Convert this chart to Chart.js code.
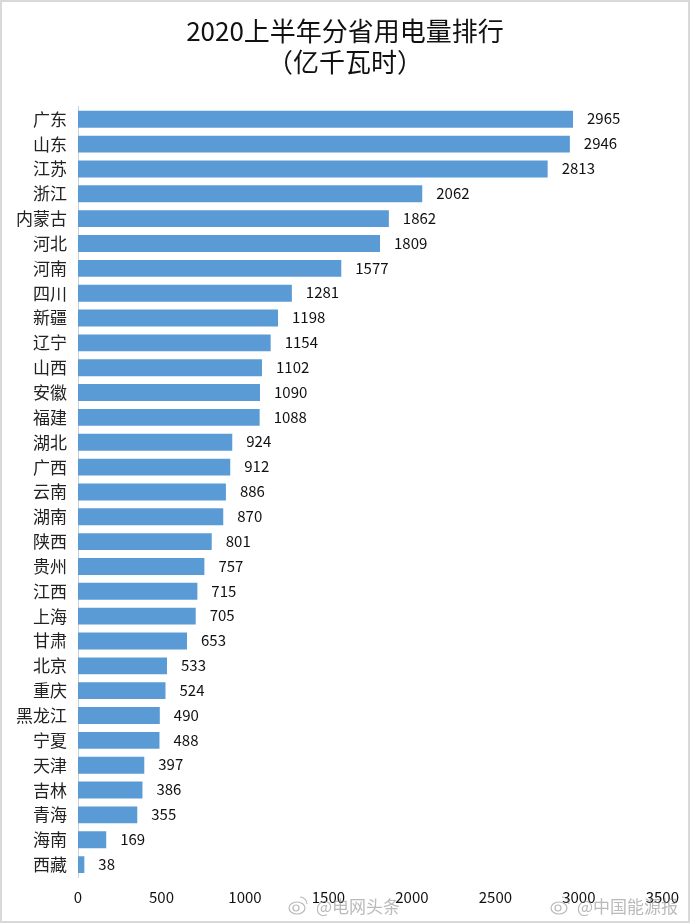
<!DOCTYPE html>
<html>
<head>
<meta charset="utf-8">
<script src="https://cdn.jsdelivr.net/npm/chart.js@4/dist/chart.umd.min.js"></script>
<style>
html, body { margin: 0; padding: 0; background: #fff; }
#wrap { position: relative; width: 690px; height: 923px; box-sizing: border-box; }
canvas { position: absolute; left: 0; top: 0; }
</style>
</head>
<body>
<div id="wrap"><canvas id="myChart" width="690" height="923"></canvas></div>
<script>
const provinces = ['广东','山东','江苏','浙江','内蒙古','河北','河南','四川','新疆','辽宁','山西','安徽','福建','湖北','广西','云南','湖南','陕西','贵州','江西','上海','甘肃','北京','重庆','黑龙江','宁夏','天津','吉林','青海','海南','西藏'];
const usage = [2965,2946,2813,2062,1862,1809,1577,1281,1198,1154,1102,1090,1088,924,912,886,870,801,757,715,705,653,533,524,490,488,397,386,355,169,38];
const xTicks = [0,500,1000,1500,2000,2500,3000,3500];
const titleLines = ['2020上半年分省用电量排行','（亿千瓦时）'];
const watermarks = ['@电网头条','@中国能源报'];

const fontFam = '"Noto Sans CJK SC", sans-serif';

// weibo style mark in front of the watermark text
function drawMark(c, x, y) {
    c.beginPath();
    c.ellipse(x, y + 1, 8, 6, 0, 0, Math.PI * 2);
    c.stroke();
    c.beginPath();
    c.arc(x - 1, y + 1, 3, 0, Math.PI * 2);
    c.stroke();
    c.beginPath();
    c.arc(x + 3, y - 3, 7, -Math.PI / 2, 0);
    c.stroke();
}

// value labels next to the bars, plus frame and watermark
const extras = {
    id: 'extras',
    afterDatasetsDraw(chart) {
        const c = chart.ctx;
        const meta = chart.getDatasetMeta(0);
        c.save();
        c.fillStyle = '#111';
        c.font = '15px ' + fontFam;
        c.textAlign = 'left';
        c.textBaseline = 'middle';
        meta.data.forEach((bar, i) => {
            c.fillText(usage[i], bar.x + 14, bar.y - 0.5);
        });
        c.restore();
    },
    afterDraw(chart) {
        const c = chart.ctx;
        c.save();
        c.strokeStyle = '#d9d9d9';
        c.lineWidth = 2;
        c.strokeRect(1, 1, 688, 921);
        c.fillStyle = 'rgba(130,130,130,0.55)';
        c.strokeStyle = 'rgba(130,130,130,0.55)';
        c.lineWidth = 1.2;
        c.font = '17px "Noto Sans CJK SC"';
        c.textBaseline = 'middle';
        c.fillText(watermarks[0], 316, 907);
        c.fillText(watermarks[1], 577, 907);
        drawMark(c, 297, 907);
        drawMark(c, 559, 907);
        c.restore();
    }
};

new Chart(document.getElementById('myChart'), {
    type: 'bar',
    data: {
        labels: provinces,
        datasets: [{
            data: usage,
            backgroundColor: '#5b9bd5',
            categoryPercentage: 1,
            barPercentage: 0.68
        }]
    },
    options: {
        indexAxis: 'y',
        responsive: false,
        animation: false,
        layout: { padding: { left: 0, right: 0, top: 0, bottom: 6 } },
        plugins: {
            legend: { display: false },
            tooltip: { enabled: false },
            title: {
                display: true,
                text: titleLines,
                color: '#111',
                font: { family: fontFam, size: 26, weight: 'normal', lineHeight: 1.18 },
                padding: { top: 16, bottom: 29.5 }
            }
        },
        scales: {
            x: {
                min: 0,
                max: 3500,
                afterBuildTicks(axis) { axis.ticks = xTicks.map(v => ({ value: v })); },
                grid: { display: false, drawTicks: false },
                border: { display: false },
                ticks: {
                    color: '#111',
                    padding: 11,
                    maxRotation: 0,
                    font: { family: fontFam, size: 15 },
                    callback: v => String(v)
                }
            },
            y: {
                grid: { display: false, drawTicks: false },
                border: { display: true, color: '#cfcfcf', width: 1 },
                afterFit(axis) { axis.width = 78; },
                ticks: { color: '#222', padding: 11, autoSkip: false, font: { family: fontFam, size: 17 } }
            },
            // empty axis, only keeps the margin on the right so the title stays centred on the page
            ySpacer: {
                axis: 'y',
                type: 'linear',
                position: 'right',
                grid: { display: false, drawTicks: false },
                border: { display: false },
                ticks: { display: false },
                afterFit(axis) { axis.width = 26; }
            }
        }
    },
    plugins: [extras]
});
</script>
</body>
</html>
